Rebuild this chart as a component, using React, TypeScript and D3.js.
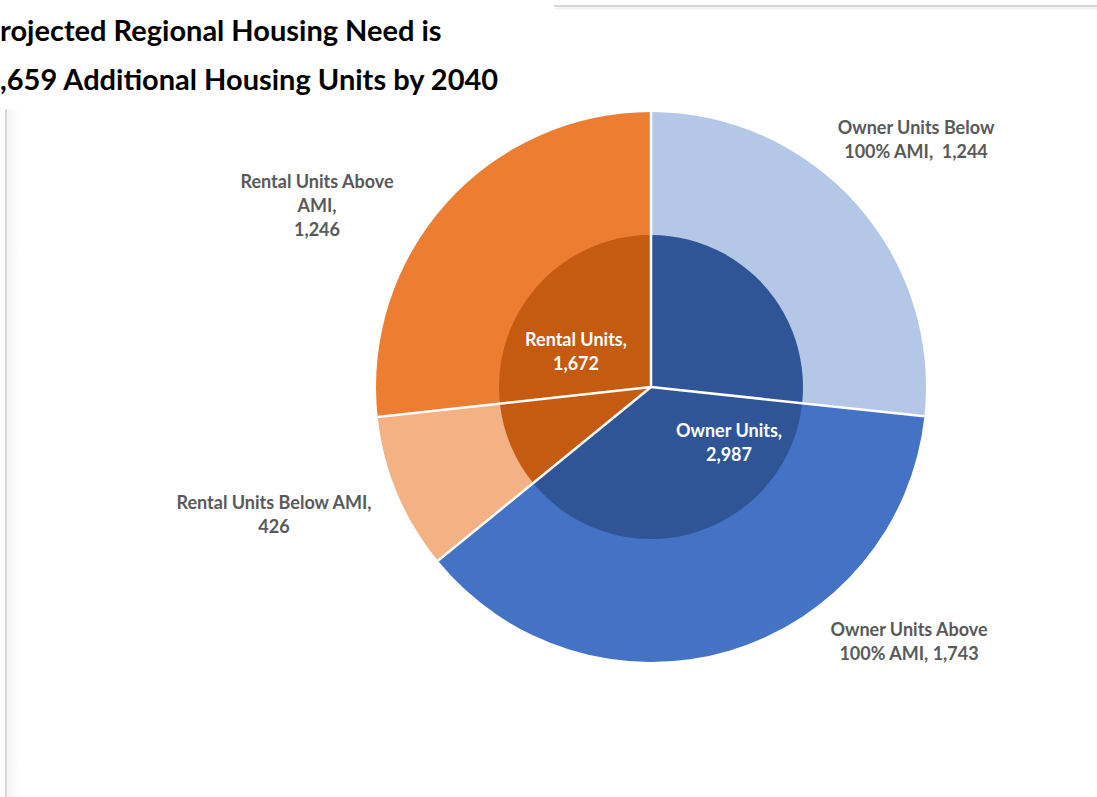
import * as d3 from "d3";

const titleLines = [
  ["P", "rojected Regional Housing Need is"],
  ["4", ",659 Additional Housing Units by 2040"],
];

// outer ring, clockwise from 12 o'clock
const outerNames = [
  ["Owner Units Below", "100% AMI, "],
  ["Owner Units Above", "100% AMI,"],
  ["Rental Units Below AMI,"],
  ["Rental Units Above", "AMI,"],
];
const outerValues = [1244, 1743, 426, 1246];
const outerColors = ["#B4C7E7", "#4472C4", "#F4B183", "#ED7D31"];

// inner pie
const innerNames = ["Owner Units,", "Rental Units,"];
const innerValues = [2987, 1672];
const innerColors = ["#2F5597", "#C55A11"];

const width = 1097;
const height = 797;
const fmt = d3.format(",");

export default function App() {
  const cx = 651;
  const cy = 387;
  const outerR = 275;
  const innerR = 152;

  const pie = d3.pie<number>().sort(null).value((d) => d);
  const outerArcs = pie(outerValues);
  const innerArcs = pie(innerValues);

  const outerArc = d3.arc<d3.PieArcDatum<number>>().innerRadius(0).outerRadius(outerR);
  const innerArc = d3.arc<d3.PieArcDatum<number>>().innerRadius(0).outerRadius(innerR);

  // label anchors (relative to centre), Excel-style placement
  const outerLabelPos = [
    { x: 265, y: -253, lines: [outerNames[0][0], outerNames[0][1] + " " + fmt(outerValues[0])] },
    { x: 258, y: 249, lines: [outerNames[1][0], outerNames[1][1] + " " + fmt(outerValues[1])] },
    { x: -377, y: 122, lines: [outerNames[2][0], fmt(outerValues[2])] },
    { x: -334, y: -199, lines: [outerNames[3][0], outerNames[3][1], fmt(outerValues[3])] },
  ];
  const innerLabelPos = [
    { x: 78, y: 50 },
    { x: -75, y: -41 },
  ];

  return (
    <svg
      width={width}
      height={height}
      style={{ position: "absolute", left: 0, top: 0, background: "#fff" }}
    >
      <defs>
        <linearGradient id="shade" x1="0" x2="1" y1="0" y2="0">
          <stop offset="0" stopColor="#ececec" />
          <stop offset="1" stopColor="#ffffff" />
        </linearGradient>
      </defs>
      {/* panel edges */}
      <rect x={7} y={109} width={14} height={height - 109} fill="url(#shade)" opacity={0.5} />
      <line x1={6} x2={6} y1={109} y2={height} stroke="#d6d6d6" strokeWidth={2} />
      <line x1={554} x2={width} y1={6} y2={6} stroke="#d6d6d6" strokeWidth={2} />
      <line x1={554} x2={width} y1={8.5} y2={8.5} stroke="#f2f2f2" strokeWidth={2} />

      {/* title, clipped at the left edge */}
      <g fontFamily="Lato, 'Open Sans', sans-serif" fontWeight={700} fontSize={29} fill="#000">
        {titleLines.map((l, i) => (
          <g key={i}>
            <text x={0} y={41 + i * 49} textAnchor="end">{l[0]}</text>
            <text x={0} y={41 + i * 49}>{l[1]}</text>
          </g>
        ))}
      </g>

      <g transform={`translate(${cx},${cy})`}>
        {outerArcs.map((a, i) => (
          <path key={"o" + i} d={outerArc(a) ?? ""} fill={outerColors[i]} />
        ))}
        {innerArcs.map((a, i) => (
          <path key={"i" + i} d={innerArc(a) ?? ""} fill={innerColors[i]} />
        ))}
        {/* white separators along slice edges */}
        {outerArcs.map((a, i) => (
          <line
            key={"s" + i}
            x1={0}
            y1={0}
            x2={outerR * Math.sin(a.startAngle)}
            y2={-outerR * Math.cos(a.startAngle)}
            stroke="#fff"
            strokeWidth={2.5}
          />
        ))}

        <g fontFamily="Lato, 'Open Sans', sans-serif" fontWeight={700} fontSize={18} textAnchor="middle">
          {outerLabelPos.map((p, i) => (
            <text key={"ol" + i} x={p.x} y={p.y} fill="#595959" style={{ whiteSpace: "pre" }}>
              {p.lines.map((t, j) => (
                <tspan key={j} x={p.x} dy={j === 0 ? 0 : 24}>{t}</tspan>
              ))}
            </text>
          ))}
          {innerArcs.map((a, i) => (
            <text key={"il" + i} x={innerLabelPos[i].x} y={innerLabelPos[i].y} fill="#ffffff">
              <tspan x={innerLabelPos[i].x} dy={0}>{innerNames[i]}</tspan>
              <tspan x={innerLabelPos[i].x} dy={24}>{fmt(a.data)}</tspan>
            </text>
          ))}
        </g>
      </g>
    </svg>
  );
}
